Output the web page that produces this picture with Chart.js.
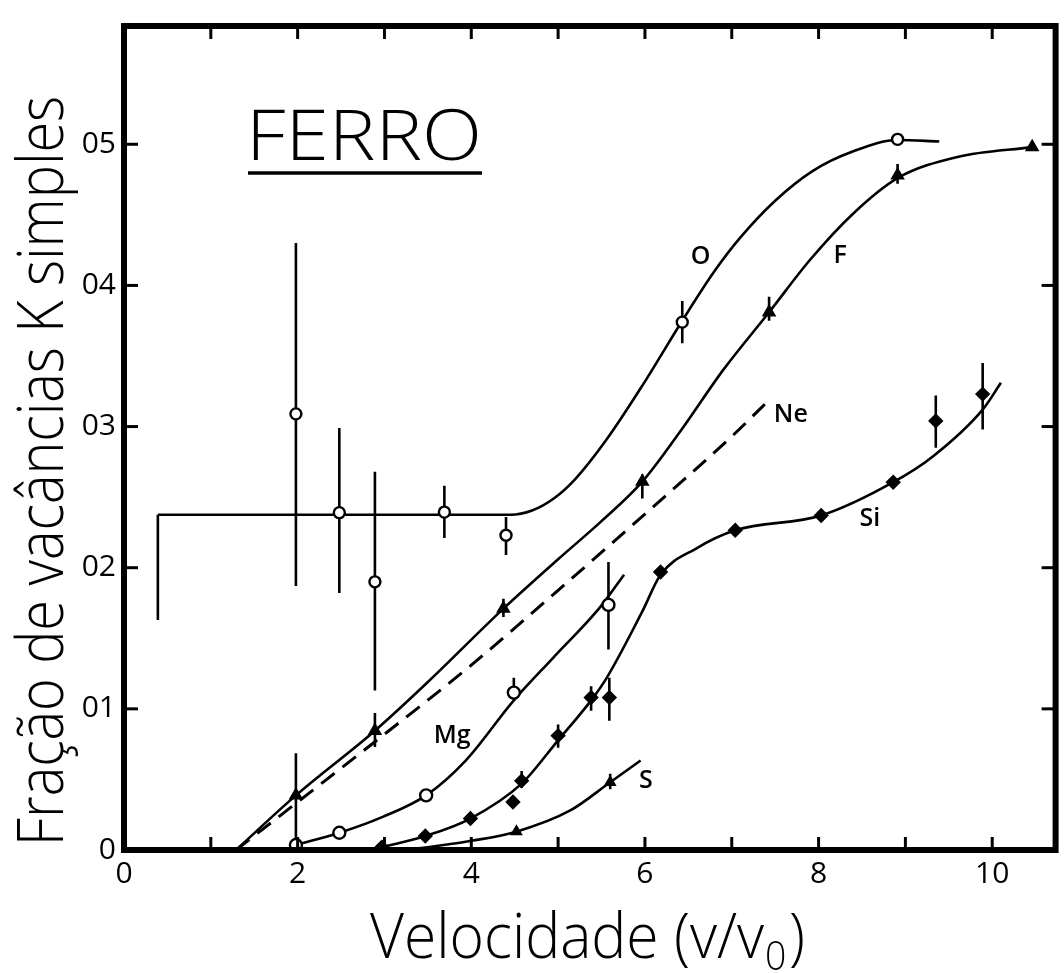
<!DOCTYPE html>
<html>
<head>
<meta charset="utf-8">
<script src="https://cdn.jsdelivr.net/npm/chart.js@4.4.1/dist/chart.umd.min.js"></script>
<style>
html,body{margin:0;padding:0;background:#fff;}
canvas{display:block;}
</style>
</head>
<body>
<canvas id="c" width="1064" height="973"></canvas>
<script>
// ---------- tick labels ----------
const xTickValues = [0, 2, 4, 6, 8, 10];
const xTickLabels = ['0', '2', '4', '6', '8', '10'];
const yTickValues = [0, 0.1, 0.2, 0.3, 0.4, 0.5];
const yTickLabels = ['0', '01', '02', '03', '04', '05'];

// ---------- curves ----------
const oStubX = [0.39, 0.39];
const oStubY = [0.163, 0.2375];
const oCurveX = [0.39, 4.45, 4.70, 4.95, 5.20, 5.56, 5.97, 6.43, 6.80, 7.10, 7.50, 7.93, 8.40, 8.91, 9.39];
const oCurveY = [0.2375, 0.2375, 0.2405, 0.249, 0.263, 0.291, 0.329, 0.375, 0.410, 0.434, 0.460, 0.481, 0.495, 0.503, 0.502];

const fCurveX = [1.29, 1.98, 2.89, 3.50, 4.37, 5.00, 5.50, 5.97, 6.40, 6.90, 7.43, 7.90, 8.40, 8.91, 9.60, 10.46];
const fCurveY = [0.0, 0.0387, 0.0845, 0.119, 0.171, 0.206, 0.233, 0.261, 0.296, 0.340, 0.381, 0.418, 0.451, 0.476, 0.491, 0.498];

const neCurveX = [1.29, 2.0, 3.0, 4.0, 5.0, 6.0, 7.0, 7.45];
const neCurveY = [0.0, 0.034, 0.082, 0.131, 0.184, 0.238, 0.293, 0.320];

const mgCurveX = [1.98, 2.48, 2.98, 3.48, 3.93, 4.49, 4.94, 5.47, 5.76];
const mgCurveY = [0.0035, 0.0122, 0.0235, 0.0387, 0.063, 0.106, 0.136, 0.171, 0.195];

const siCurveX = [2.97, 3.47, 3.99, 4.58, 4.99, 5.38, 5.56, 5.97, 6.18, 6.59, 7.04, 8.03, 8.86, 9.32, 9.89, 10.10];
const siCurveY = [0.002, 0.0099, 0.0223, 0.047, 0.077, 0.106, 0.122, 0.169, 0.195, 0.2136, 0.2265, 0.237, 0.2606, 0.279, 0.312, 0.331];

const sCurveX = [3.1, 3.5, 4.0, 4.52, 5.14, 5.60, 5.95];
const sCurveY = [0.0, 0.002, 0.0065, 0.013, 0.028, 0.048, 0.0634];

// ---------- measured points with error bars ----------
const oPtX = [1.98, 2.48, 2.89, 3.69, 4.40, 6.43, 8.91];
const oPtY = [0.309, 0.239, 0.190, 0.2394, 0.223, 0.374, 0.5035];
const oErrLo = [0.187, 0.182, 0.113, 0.221, 0.209, 0.359, null];
const oErrHi = [0.43, 0.299, 0.268, 0.258, 0.236, 0.389, null];

const fPtX = [1.98, 2.89, 4.37, 5.97, 7.43, 8.91, 10.46];
const fPtY = [0.0387, 0.0845, 0.171, 0.261, 0.381, 0.478, 0.498];
const fErrLo = [0.004, 0.073, 0.165, 0.249, 0.375, 0.472, null];
const fErrHi = [0.0685, 0.097, 0.178, 0.266, 0.392, 0.486, null];

const mgPtX = [1.98, 2.48, 3.48, 4.49, 5.58];
const mgPtY = [0.0035, 0.0122, 0.0387, 0.1115, 0.1737];
const mgErrLo = [null, null, null, 0.106, 0.142];
const mgErrHi = [null, null, null, 0.122, 0.204];

const siPtX = [2.97, 3.47, 3.99, 4.48, 4.58, 5.0, 5.38, 5.59, 6.18, 7.04, 8.03, 8.86, 9.35, 9.89];
const siPtY = [0.002, 0.0099, 0.0223, 0.034, 0.049, 0.081, 0.108, 0.108, 0.197, 0.2265, 0.237, 0.2606, 0.304, 0.323];
const siErrLo = [null, null, null, null, 0.044, 0.0725, 0.0986, 0.0915, null, null, null, null, 0.285, 0.298];
const siErrHi = [null, null, null, null, 0.056, 0.089, 0.116, 0.122, null, null, null, null, 0.322, 0.345];

const sPtX = [4.52, 5.60];
const sPtY = [0.013, 0.048];
const sErrLo = [null, 0.043];
const sErrHi = [null, 0.054];

const seriesNames = ['O', 'F', 'Ne', 'Mg', 'Si', 'S'];

// ---------- helpers ----------
const pts = (xs, ys) => xs.map((x, i) => ({x: x, y: ys[i]}));
const FONT = "'Open Sans', 'DejaVu Sans', sans-serif";

function curve(xs, ys, extra) {
  return Object.assign({
    data: pts(xs, ys), showLine: true, pointRadius: 0, borderColor: '#000',
    borderWidth: 2.6, cubicInterpolationMode: 'monotone', fill: false, order: 2
  }, extra || {});
}
function marks(xs, ys, style, radius, bg) {
  return {
    data: pts(xs, ys), showLine: false, pointStyle: style, pointRadius: radius,
    pointBackgroundColor: bg, pointBorderColor: '#000', pointBorderWidth: 2.4,
    borderColor: '#000', order: 0
  };
}

const errGroups = [
  [oPtX, oErrLo, oErrHi], [fPtX, fErrLo, fErrHi], [mgPtX, mgErrLo, mgErrHi],
  [siPtX, siErrLo, siErrHi], [sPtX, sErrLo, sErrHi]
];

const annotPlugin = {
  id: 'annot',
  beforeDatasetsDraw(chart) {
    const ctx = chart.ctx, xs = chart.scales.x, ys = chart.scales.y, a = chart.chartArea;
    ctx.save();
    ctx.beginPath(); ctx.rect(a.left, a.top, a.right - a.left, a.bottom - a.top); ctx.clip();
    ctx.strokeStyle = '#000'; ctx.lineWidth = 2.6; ctx.lineCap = 'butt';
    errGroups.forEach(([X, lo, hi]) => {
      X.forEach((x, i) => {
        if (lo[i] == null) return;
        const px = xs.getPixelForValue(x);
        ctx.beginPath();
        ctx.moveTo(px, ys.getPixelForValue(lo[i]));
        ctx.lineTo(px, ys.getPixelForValue(hi[i]));
        ctx.stroke();
      });
    });
    ctx.restore();
  },
  afterDraw(chart) {
    const ctx = chart.ctx, xs = chart.scales.x, ys = chart.scales.y, a = chart.chartArea;
    ctx.save();
    ctx.strokeStyle = '#000'; ctx.fillStyle = '#000';
    // frame
    ctx.lineWidth = 6;
    ctx.strokeRect(a.left, a.top, a.right - a.left, a.bottom - a.top);
    // inward ticks
    ctx.lineWidth = 3;
    for (let v = 1; v <= 10; v++) {
      const px = xs.getPixelForValue(v);
      ctx.beginPath(); ctx.moveTo(px, a.bottom); ctx.lineTo(px, a.bottom - 13); ctx.stroke();
      ctx.beginPath(); ctx.moveTo(px, a.top); ctx.lineTo(px, a.top + 13); ctx.stroke();
    }
    for (let k = 1; k <= 5; k++) {
      const py = ys.getPixelForValue(k / 10);
      ctx.beginPath(); ctx.moveTo(a.left, py); ctx.lineTo(a.left + 14, py); ctx.stroke();
      ctx.beginPath(); ctx.moveTo(a.right, py); ctx.lineTo(a.right - 14, py); ctx.stroke();
    }
    // y title (rotated, fitted to its length)
    ctx.save();
    ctx.font = '300 64px ' + FONT;
    ctx.textBaseline = 'alphabetic'; ctx.textAlign = 'left';
    const yt = 'Fração de vacâncias K simples';
    const ytw = ctx.measureText(yt).width;
    ctx.translate(63, 846);
    ctx.rotate(-Math.PI / 2);
    ctx.scale(750 / ytw, 1);
    ctx.fillText(yt, 0, 0);
    ctx.restore();
    // x title with subscript
    ctx.save();
    const p1 = 'Velocidade (v/v', p2 = '0', p3 = ')';
    ctx.textBaseline = 'alphabetic'; ctx.textAlign = 'left';
    ctx.font = '300 63px ' + FONT; const w1 = ctx.measureText(p1).width, w3 = ctx.measureText(p3).width;
    ctx.font = '300 40px ' + FONT; const w2 = ctx.measureText(p2).width;
    const sx = 435 / (w1 + w2 + w3 + 4);
    ctx.translate(370, 958); ctx.scale(sx, 1);
    ctx.font = '300 63px ' + FONT; ctx.fillText(p1, 0, 0);
    ctx.font = '300 40px ' + FONT; ctx.fillText(p2, w1 + 1, 12);
    ctx.font = '300 63px ' + FONT; ctx.fillText(p3, w1 + w2 + 4, 0);
    ctx.restore();
    // FERRO with underline
    ctx.save();
    ctx.font = '300 70px ' + FONT; ctx.textBaseline = 'alphabetic'; ctx.textAlign = 'left';
    const ft = 'FERRO', fw = ctx.measureText(ft).width;
    ctx.translate(246, 160); ctx.scale(236 / fw, 1);
    ctx.fillText(ft, 0, 0);
    ctx.restore();
    ctx.lineWidth = 3.5;
    ctx.beginPath(); ctx.moveTo(248, 173); ctx.lineTo(482, 173); ctx.stroke();
    // series labels
    const lab = chart.options.plugins.annot.labels;
    ctx.font = '600 25px ' + FONT; ctx.textAlign = 'center'; ctx.textBaseline = 'middle';
    seriesNames.forEach((n, i) => {
      const p = lab[i];
      ctx.fillText(n, xs.getPixelForValue(p[0]), ys.getPixelForValue(p[1]));
    });
    ctx.restore();
  }
};

const chart = new Chart(document.getElementById('c'), {
  type: 'scatter',
  data: {
    datasets: [
      marks(oPtX, oPtY, 'circle', 5.5, '#fff'),
      marks(mgPtX, mgPtY, 'circle', 6, '#fff'),
      marks(fPtX, fPtY, 'triangle', 6, '#000'),
      marks(siPtX, siPtY, 'rectRot', 6, '#000'),
      marks(sPtX, sPtY, 'triangle', 5, '#000'),
      curve(oStubX, oStubY, {cubicInterpolationMode: 'default', tension: 0}),
      curve(oCurveX, oCurveY),
      curve(fCurveX, fCurveY),
      curve(neCurveX, neCurveY, {borderDash: [17, 10], borderWidth: 3}),
      curve(mgCurveX, mgCurveY),
      curve(siCurveX, siCurveY),
      curve(sCurveX, sCurveY)
    ]
  },
  options: {
    responsive: false,
    devicePixelRatio: 1,
    animation: false,
    layout: {padding: {top: 21, right: 5, left: 0, bottom: 0}},
    plugins: {
      legend: {display: false},
      tooltip: {enabled: false},
      annot: {
        labels: [[6.64, 0.42], [8.25, 0.421], [7.68, 0.308], [3.78, 0.081], [8.59, 0.2345], [6.01, 0.0493]]
      }
    },
    scales: {
      x: {
        type: 'linear', min: 0, max: 10.73,
        afterFit: s => { s.height = 123; },
        afterBuildTicks: s => { s.ticks = xTickValues.map(v => ({value: v})); },
        grid: {display: false, drawTicks: false},
        border: {display: false},
        ticks: {
          autoSkip: false, maxRotation: 0, minRotation: 0, padding: 6,
          color: '#000', font: {family: FONT, size: 30},
          callback: v => {
            const i = xTickValues.findIndex(t => Math.abs(t - v) < 1e-6);
            return i >= 0 ? xTickLabels[i] : '';
          }
        }
      },
      y: {
        type: 'linear', min: 0, max: 0.5838,
        afterFit: s => { s.width = 124; },
        afterBuildTicks: s => { s.ticks = yTickValues.map(v => ({value: v})); },
        grid: {display: false, drawTicks: false},
        border: {display: false},
        ticks: {
          autoSkip: false, padding: 8,
          color: '#000', font: {family: FONT, size: 30},
          callback: v => {
            const i = yTickValues.findIndex(t => Math.abs(t - v) < 1e-6);
            return i >= 0 ? yTickLabels[i] : '';
          }
        }
      }
    }
  },
  plugins: [annotPlugin]
});
</script>
</body>
</html>
